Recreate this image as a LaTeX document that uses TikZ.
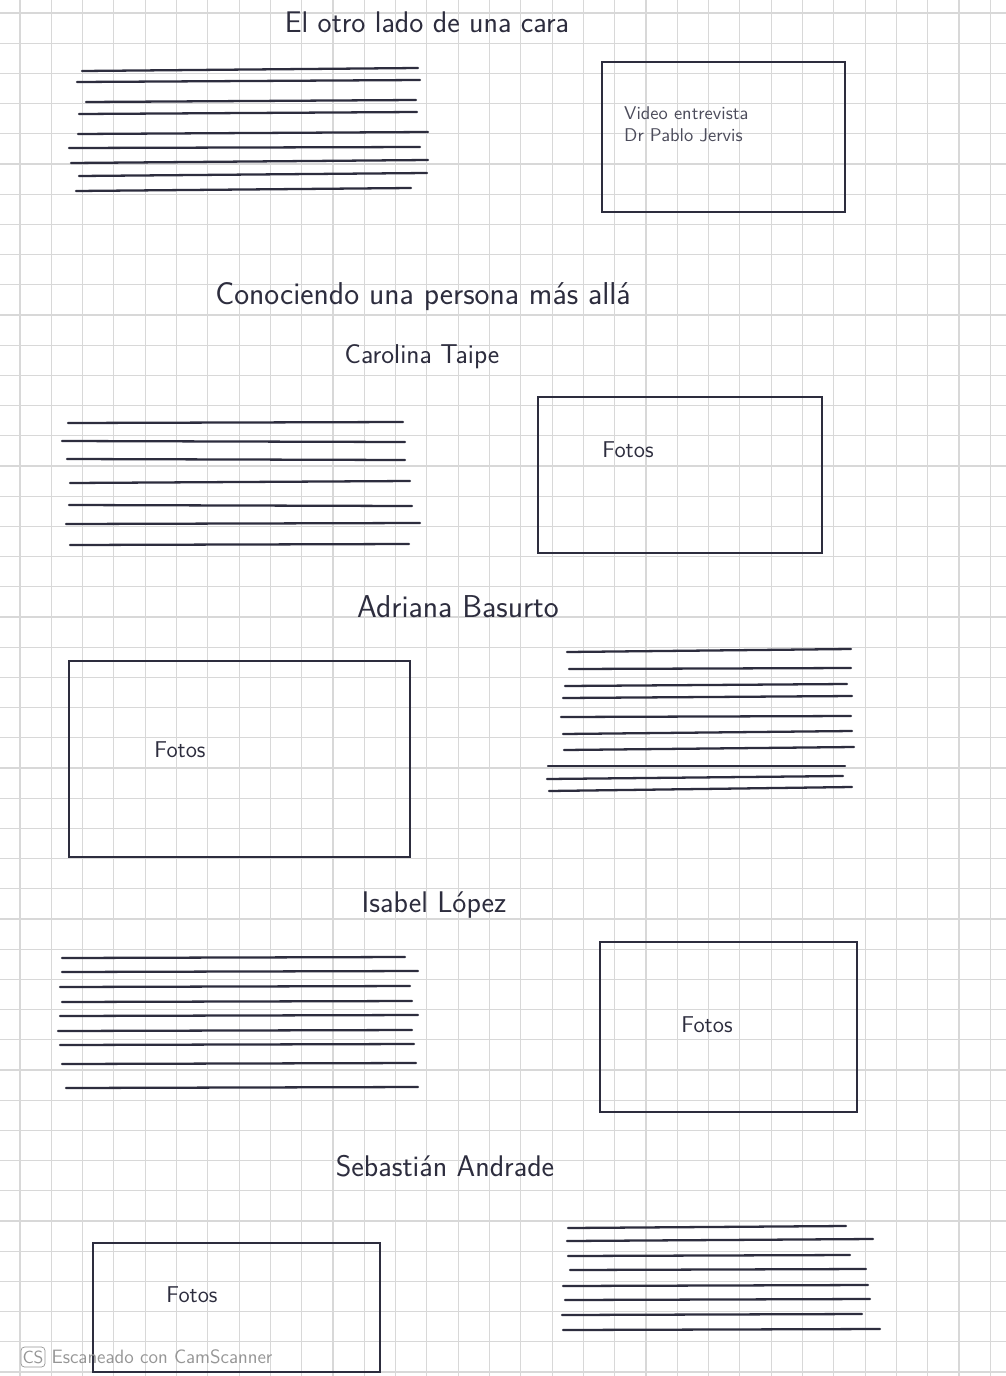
\documentclass[tikz,border=0pt]{standalone}
\usepackage{tikz}
\usetikzlibrary{positioning}
\definecolor{ink}{RGB}{45,45,62}
\definecolor{gridline}{RGB}{216,216,216}
\definecolor{scanmark}{RGB}{150,150,150}

\begin{document}
\begin{tikzpicture}[
    x=0.02cm, y=-0.02cm,
    inkline/.style={draw=ink, line width=1.3pt, line cap=round},
    boxline/.style={draw=ink, line width=1pt},
    headtext/.style={font=\sffamily\fontsize{17}{20}\selectfont, text=ink},
    persontext/.style={font=\sffamily\fontsize{15.5}{18}\selectfont, text=ink},
    phototext/.style={font=\sffamily\fontsize{13}{15}\selectfont, text=ink},
    notetext/.style={font=\sffamily\fontsize{10.5}{13}\selectfont, text=ink!85, align=left},
]
\useasboundingbox (0,0) rectangle (1006,1376);
\fill[white] (0,0) rectangle (1006,1376);
% === squared paper ===
\foreach \gx in {0,...,31} \draw[gridline, line width=0.6pt] (20+31.3*\gx,0) -- (20+31.3*\gx,1376);
\foreach \gy in {0,...,45} \draw[gridline, line width=0.6pt] (0,13+30.2*\gy) -- (1006,13+30.2*\gy);
% === first page block: text lines and the video box ===
\node[headtext] (title) at (427,22) {El otro lado de una cara};
\foreach \xa/\ya/\xb/\yb in {82/71/418/68, 77/82/420/80, 86/102/416/100, 79/114/417/112, 78/134/428/132,
    69/148/420/147, 71/163/428/160, 79/176/427/173, 76/191/411/188}
  \draw[inkline] (\xa,\ya) -- (\xb,\yb);
\draw[boxline] (602,62) rectangle (845,212);
\node[notetext, anchor=north west] (video) at (618,100) {Video entrevista\\Dr Pablo Jervis};
% === section heading ===
\node[headtext, font=\sffamily\fontsize{18}{21}\selectfont] (section) at (423,297) {Conociendo una persona más allá};
% === Carolina: text left, photos right ===
\node[persontext] (carolina) at (422,357) {Carolina Taipe};
\foreach \xa/\ya/\xb/\yb in {68/423/403/422, 62/441/405/442, 67/459/405/460, 70/483/410/481,
    69/505/412/506, 66/524/420/523, 70/545/409/544}
  \draw[inkline] (\xa,\ya) -- (\xb,\yb);
\draw[boxline] (538,397) rectangle (822,553);
\node[phototext] (fotos1) at (628,450) {Fotos};
% === Adriana: photos left, text right ===
\node[persontext, font=\sffamily\fontsize{18}{21}\selectfont] (adriana) at (458,607) {Adriana Basurto};
\draw[boxline] (69,661) rectangle (410,857);
\node[phototext] (fotos2) at (180,750) {Fotos};
\foreach \xa/\ya/\xb/\yb in {567/652/851/649, 569/669/851/668, 565/686/847/684, 563/698/852/696,
    561/717/851/716, 563/734/852/731, 564/750/854/747, 548/766/845/766, 547/779/843/776, 549/791/852/787}
  \draw[inkline] (\xa,\ya) -- (\xb,\yb);
% === Isabel: text left, photos right ===
\node[persontext, font=\sffamily\fontsize{17}{20}\selectfont] (isabel) at (434,905) {Isabel López};
\foreach \xa/\ya/\xb/\yb in {62/958/405/957, 62/972/418/971, 60/987/410/986, 62/1002/412/1001,
    60/1016/418/1015, 58/1031/412/1030, 60/1045/414/1044, 62/1064/416/1063, 66/1088/418/1087}
  \draw[inkline] (\xa,\ya) -- (\xb,\yb);
\draw[boxline] (600,942) rectangle (857,1112);
\node[phototext] (fotos3) at (707,1025) {Fotos};
% === Sebastián: photos left, text right ===
\node[persontext, font=\sffamily\fontsize{17}{20}\selectfont] (sebastian) at (445,1166) {Sebastián Andrade};
\draw[boxline] (93,1243) rectangle (380,1372);
\node[phototext] (fotos4) at (192,1295) {Fotos};
\foreach \xa/\ya/\xb/\yb in {568/1228/846/1226, 567/1241/873/1239, 568/1256/850/1255, 570/1270/866/1269,
    563/1286/868/1285, 565/1300/870/1299, 562/1315/862/1314, 563/1330/880/1329}
  \draw[inkline] (\xa,\ya) -- (\xb,\yb);
% === scanner watermark ===
\node[draw=scanmark, fill=white, rounded corners=2pt, minimum width=0.48cm, minimum height=0.4cm,
      inner sep=0pt, font=\sffamily\fontsize{10}{10}\selectfont, text=scanmark] (cslogo) at (33,1357) {CS};
\node[right=0pt of cslogo, font=\sffamily\fontsize{11}{13}\selectfont, text=scanmark] (scanner) {Escaneado con CamScanner};
\end{tikzpicture}
\end{document}
